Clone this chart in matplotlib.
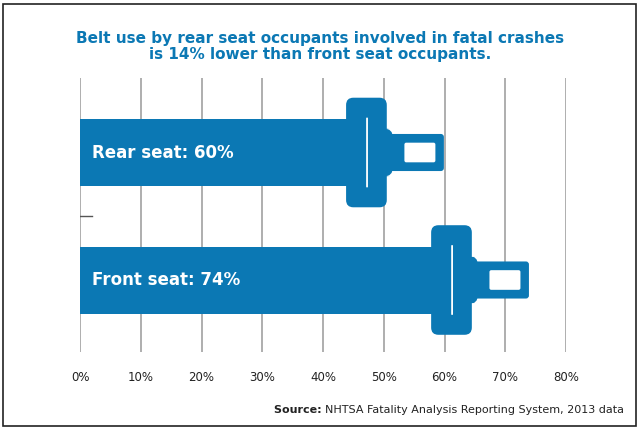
import matplotlib
matplotlib.use("Agg")
import matplotlib.pyplot as plt
from matplotlib.patches import FancyBboxPatch, Rectangle

# data
labels = ["Rear seat", "Front seat"]
values = [60, 74]
ticks = [0, 10, 20, 30, 40, 50, 60, 70, 80]
tick_labels = [f"{t}%" for t in ticks]

blue = "#0b78b4"
W, H = 640, 429
fig = plt.figure(figsize=(W / 100, H / 100), dpi=100)
fig.patch.set_facecolor("white")

# outer frame
fig.add_artist(Rectangle((3 / W, 3 / H), 633 / W, 422 / H, transform=fig.transFigure,
                         fill=False, edgecolor="#222222", lw=1.2))

ax = fig.add_axes([80 / W, (H - 352) / H, 486 / W, 274 / H])
ax.set_xlim(0, 80)
ax.set_ylim(352, 78)
for s in ax.spines.values():
    s.set_visible(False)
ax.set_yticks([])
ax.set_xticks(ticks)
ax.set_xticklabels(tick_labels, fontsize=8.5, color="#222222")
ax.tick_params(axis="x", length=0, pad=14)
for t in ticks:
    ax.axvline(t, color="#999999", lw=1.1, zorder=0)
ax.plot([0, 2], [216, 216], color="#555555", lw=1, zorder=1)

asp = 6.075  # pixels per percent
centers = [152.5, 280]
for lab, v, c in zip(labels, values, centers):
    # strap
    ax.add_patch(Rectangle((0, c - 33.5), v - 15, 67, color=blue, lw=0, zorder=2))
    # tongue
    ax.add_patch(FancyBboxPatch((v - 10.5, c - 18.5 + 3), 10.5 - 0.6, 37 - 6,
                                boxstyle="round,pad=0.5,rounding_size=0.5",
                                mutation_aspect=asp, color=blue, lw=0, zorder=2))
    # flare between body and tongue
    ax.add_patch(FancyBboxPatch((v - 10.5, c - 24), 2.0, 48,
                                boxstyle="round,pad=0,rounding_size=1.5",
                                mutation_aspect=asp, color=blue, lw=0, zorder=2))
    # buckle body
    ax.add_patch(FancyBboxPatch((v - 16.2 + 1.2, c - 54.5 + 7), 6.7 - 2.4, 109 - 14,
                                boxstyle="round,pad=1.2,rounding_size=1.2",
                                mutation_aspect=asp, color=blue, lw=0, zorder=3))
    # hole in tongue
    ax.add_patch(FancyBboxPatch((v - 6.6 + 0.3, c - 10 + 2), 5.1 - 0.6, 20 - 4,
                                boxstyle="round,pad=0.3,rounding_size=0.3",
                                mutation_aspect=asp, color="white", lw=0, zorder=4))
    # slit
    ax.add_patch(FancyBboxPatch((v - 12.9, c - 35), 0.3, 70,
                                boxstyle="round,pad=0,rounding_size=0.15",
                                mutation_aspect=asp, color="white", lw=0, zorder=4))
    ax.text(2, c, f"{lab}: {v}%", color="white", fontsize=12, fontweight="bold",
            va="center", ha="left", zorder=5)

fig.text(0.5, (H - 38) / H, "Belt use by rear seat occupants involved in fatal crashes",
         ha="center", va="center", color=blue, fontsize=11, fontweight="bold")
fig.text(0.5, (H - 55) / H, "is 14% lower than front seat occupants.",
         ha="center", va="center", color=blue, fontsize=11, fontweight="bold")

# source line: bold prefix then plain text, placed one after the other
src_bold = fig.text(0, (H - 410) / H, "Source: ", ha="left", va="center",
                    fontsize=8, fontweight="bold", color="#222222")
src_rest = fig.text(0, (H - 410) / H, "NHTSA Fatality Analysis Reporting System, 2013 data",
                    ha="left", va="center", fontsize=8, color="#222222")
r = fig.canvas.get_renderer()
wb = src_bold.get_window_extent(r).width
wr = src_rest.get_window_extent(r).width
x0 = 624 - wb - wr
src_bold.set_x(x0 / W)
src_rest.set_x((x0 + wb) / W)

fig.savefig("out.png", dpi=100)
